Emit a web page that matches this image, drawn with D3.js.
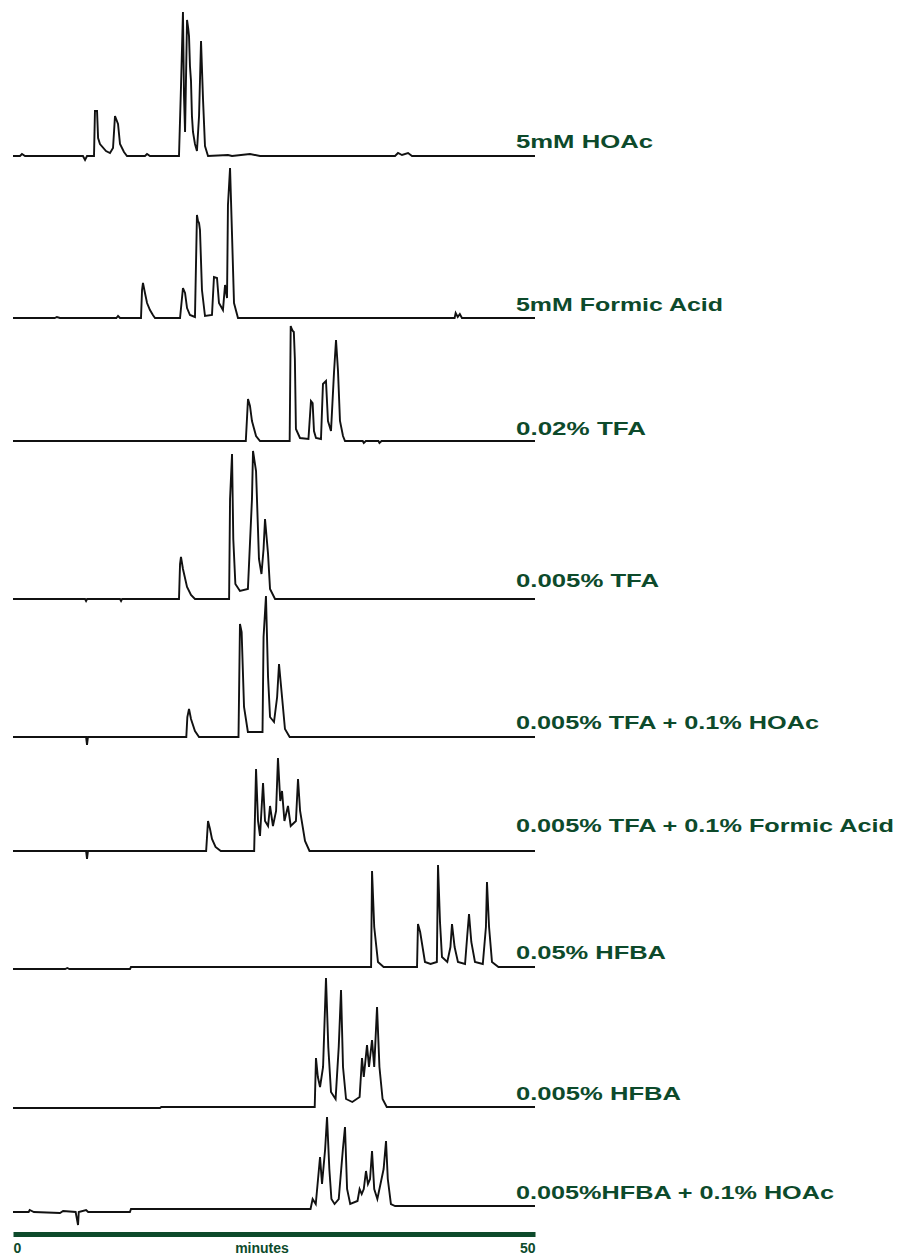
<!DOCTYPE html>
<html>
<head>
<meta charset="utf-8">
<script src="https://cdn.jsdelivr.net/npm/d3@7"></script>
<style>
  body { margin: 0; background: #fff; }
  svg { display: block; }
</style>
</head>
<body>
<svg id="chart" width="898" height="1260"></svg>
<script>
// Mobile-phase conditions, top to bottom
const conditions = [
  "5mM HOAc",
  "5mM Formic Acid",
  "0.02% TFA",
  "0.005% TFA",
  "0.005% TFA + 0.1% HOAc",
  "0.005% TFA + 0.1% Formic Acid",
  "0.05% HFBA",
  "0.005% HFBA",
  "0.005%HFBA + 0.1% HOAc"
];

// Detector response traces: [retention time (min), signal]
const hoac5mM = [[0,0],[0.67,0],[0.86,2],[1.15,0],[6.70,0],[6.90,-4],[7.09,0],[7.76,0],[7.85,45],[8.05,45],[8.15,18],[8.33,12],[8.91,5],[9.29,3],[9.58,8],[9.77,40],[10.06,32],[10.25,12],[10.63,4],[10.92,0],[12.64,0],[12.84,2],[13.12,0],[15.90,0],[16.09,69],[16.28,144],[16.38,60],[16.48,24],[16.67,136],[16.78,128],[16.86,120],[16.95,90],[17.05,75],[17.14,40],[17.24,24],[17.43,12],[17.62,5],[17.82,40],[18.01,115],[18.20,57],[18.39,10],[18.68,0],[20.59,1],[20.98,0],[22.70,2],[23.66,0],[36.59,0],[36.88,3],[37.26,1],[37.84,3],[38.22,0],[50,0]];
const formic5mM = [[0,0],[4.0,0],[4.2,1],[4.5,0],[9.9,0],[10.06,2],[10.25,0],[12.26,0],[12.36,28],[12.45,35],[12.64,25],[12.84,15],[13.12,8],[13.40,3],[13.60,0],[16.00,0],[16.28,30],[16.48,25],[16.67,10],[16.95,3],[17.43,1],[17.62,103],[17.72,97],[17.82,95],[17.91,88],[18.10,28],[18.39,2],[19.06,3],[19.25,41],[19.54,40],[19.73,15],[20.11,8],[20.31,33],[20.50,20],[20.59,113],[20.79,150],[20.98,83],[21.17,15],[21.55,0],[42.3,0],[42.4,5],[42.6,1],[42.8,4],[43.0,0],[50,0]];
const tfa002 = [[0,0],[22.3,0],[22.51,42],[22.7,35],[22.89,20],[23.28,5],[23.66,0],[26.5,0],[26.6,115],[26.7,112],[26.8,110],[26.9,109],[27.0,82],[27.1,12],[27.49,3],[28.3,2],[28.54,40],[28.7,38],[28.83,10],[29.02,3],[29.5,2],[29.69,57],[29.98,60],[30.17,20],[30.46,10],[30.75,69],[30.94,101],[31.13,70],[31.32,20],[31.61,5],[31.80,0],[33.5,0],[33.6,-2],[33.8,0],[35.0,0],[35.1,-2],[35.3,0],[50,0]];
const tfa0005 = [[0,0],[6.9,0],[7.0,-2],[7.1,0],[10.25,0],[10.35,-2],[10.45,0],[15.9,0],[16.0,35],[16.09,42],[16.28,30],[16.67,12],[17.05,4],[17.43,0],[20.7,0],[20.79,100],[20.98,145],[21.1,60],[21.3,15],[21.74,8],[22.5,10],[22.89,100],[22.99,148],[23.28,128],[23.56,40],[23.8,25],[24.0,50],[24.14,80],[24.43,45],[24.62,10],[25.10,0],[50,0]];
const tfaHoac = [[0,0],[7.0,0],[7.09,-8],[7.18,0],[16.6,0],[16.7,20],[16.86,28],[17.05,18],[17.43,6],[17.82,0],[21.6,0],[21.74,113],[21.9,105],[22.13,30],[22.5,5],[23.9,5],[24.0,100],[24.23,141],[24.43,60],[24.62,20],[25.0,15],[25.3,40],[25.48,73],[25.77,40],[26.05,8],[26.5,0],[50,0]];
const tfaFormic = [[0,0],[7.0,0],[7.09,-8],[7.18,0],[18.5,0],[18.68,30],[18.87,22],[19.06,12],[19.4,4],[19.9,0],[23.1,0],[23.28,82],[23.47,30],[23.66,15],[23.95,68],[24.14,30],[24.43,25],[24.62,45],[24.9,25],[25.2,40],[25.38,93],[25.6,50],[25.77,60],[26.0,30],[26.34,45],[26.6,25],[27.1,30],[27.30,72],[27.5,40],[27.97,10],[28.4,0],[50,0]];
const hfba005 = [[0,-2],[5.0,-2],[5.2,-1],[5.4,-2],[11.21,-2],[11.3,0],[34.3,0],[34.39,96],[34.6,40],[34.96,5],[35.5,0],[38.7,0],[38.79,43],[39.0,35],[39.46,5],[40.0,3],[40.6,5],[40.71,102],[40.9,45],[41.09,10],[41.6,5],[41.9,20],[42.05,43],[42.3,20],[42.62,5],[43.3,3],[43.5,30],[43.68,53],[43.9,25],[44.25,5],[45.0,3],[45.3,40],[45.40,85],[45.6,40],[45.88,5],[46.5,0],[50,0]];
const hfba0005 = [[0,-1],[14.08,-1],[14.2,0],[28.9,0],[29.02,49],[29.2,30],[29.41,20],[29.7,40],[29.98,129],[30.2,60],[30.46,15],[30.9,8],[31.2,60],[31.42,117],[31.61,40],[31.9,8],[32.5,5],[33.2,10],[33.43,49],[33.6,30],[33.91,62],[34.1,40],[34.39,67],[34.6,40],[34.87,100],[35.1,40],[35.4,8],[35.8,0],[50,0]];
const hfbaHoac = [[0,-3],[1.5,-3],[1.6,-1],[2.0,-3],[4.5,-4],[4.8,-2],[6.0,-3],[6.23,-16],[6.30,-3],[7.0,-1],[7.2,-3],[11.2,-3],[11.3,0],[28.5,0],[28.7,10],[29.0,5],[29.41,52],[29.6,25],[29.9,60],[30.08,92],[30.3,40],[30.5,10],[30.8,5],[31.2,10],[31.6,60],[31.80,82],[32.0,20],[32.3,5],[33.0,8],[33.2,20],[33.4,15],[33.6,20],[33.81,38],[34.0,25],[34.2,30],[34.39,58],[34.6,20],[34.9,10],[35.5,40],[35.73,68],[35.9,30],[36.2,5],[36.6,3],[50,3]];

const traces = [hoac5mM, formic5mM, tfa002, tfa0005, tfaHoac, tfaFormic, hfba005, hfba0005, hfbaHoac];

// Time axis
const timeDomain = [0, 50];
const timeTicks = [0, 50];
const timeTickLabels = ["0", "50"];
const timeTitle = "minutes";

// ---- layout ----
const plotLeft = 13, plotRight = 535;
const traceBase = [156, 318, 441, 599, 737, 851, 967, 1107, 1209];
const labelBase = [148, 311, 435, 587, 729, 832, 959, 1100, 1199];
const labelWidth = [137, 207, 130, 143, 303, 378, 150, 165, 318];
const labelX = 516;
const green = "#0d4a2b";
const fontFamily = "'Liberation Sans', Arial, sans-serif";

const svg = d3.select("#chart");

const x = d3.scaleLinear().domain(timeDomain).range([plotLeft, plotRight]);

const line = (base) => {
  const y = d3.scaleLinear().domain([0, 150]).range([base, base - 150]);
  return d3.line().x(d => x(d[0])).y(d => y(d[1]));
};

const g = svg.append("g").attr("class", "traces");
traces.forEach((tr, i) => {
  g.append("path")
    .datum(tr)
    .attr("fill", "none")
    .attr("stroke", "#111")
    .attr("stroke-width", 1.9)
    .attr("stroke-linejoin", "miter")
    .attr("d", line(traceBase[i]));
});

// condition labels at the right end of each trace
svg.append("g").attr("class", "labels")
  .selectAll("text")
  .data(conditions)
  .join("text")
  .attr("x", labelX)
  .attr("y", (d, i) => labelBase[i])
  .attr("textLength", (d, i) => labelWidth[i])
  .attr("lengthAdjust", "spacingAndGlyphs")
  .attr("fill", green)
  .style("font-family", fontFamily)
  .style("font-weight", "bold")
  .style("font-size", "18px")
  .text(d => d);

// time axis
const axis = d3.axisBottom(x)
  .tickValues(timeTicks)
  .tickFormat((d, i) => timeTickLabels[i])
  .tickSize(0)
  .tickPadding(9);

const ax = svg.append("g")
  .attr("class", "x-axis")
  .attr("transform", "translate(0,1234)")
  .call(axis);

ax.select(".domain")
  .attr("stroke", green)
  .attr("stroke-width", 5);

ax.selectAll(".tick text")
  .attr("fill", green)
  .style("font-family", fontFamily)
  .style("font-weight", "bold")
  .style("font-size", "14px")
  .attr("text-anchor", (d, i) => i === 0 ? "start" : "end")
  .attr("dy", "0.71em");

ax.append("text")
  .attr("x", 262)
  .attr("y", 9)
  .attr("dy", "0.71em")
  .attr("text-anchor", "middle")
  .attr("fill", green)
  .style("font-family", fontFamily)
  .style("font-weight", "bold")
  .style("font-size", "14px")
  .text(timeTitle);
</script>
</body>
</html>
